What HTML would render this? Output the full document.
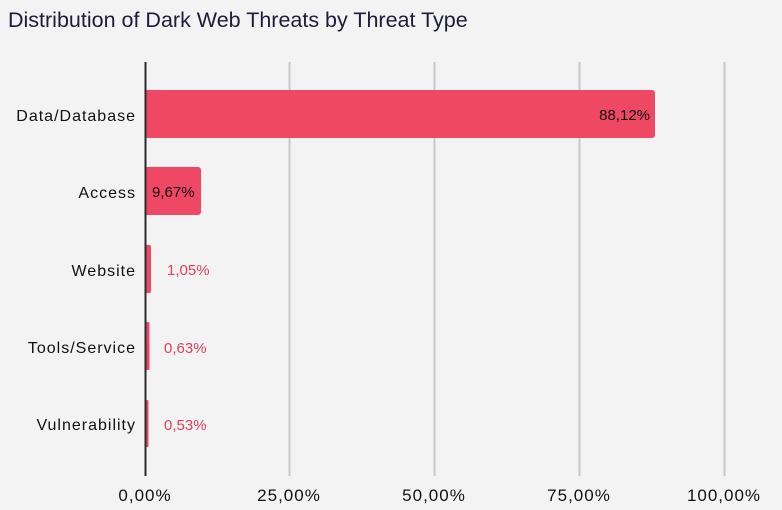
<!DOCTYPE html>
<html><head><style>
body{margin:0;background:#f2f3f2;}
svg{display:block;font-family:"Liberation Sans",sans-serif;}
</style></head><body>
<svg width="782" height="510" viewBox="0 0 782 510">
<rect width="782" height="510" fill="#f2f3f2"/>
<text x="8" y="27" font-size="21.5" fill="#1e1c3a">Distribution of Dark Web Threats by Threat Type</text>
<g stroke="#c8c8c8" stroke-width="2">
<line x1="289.5" y1="62" x2="289.5" y2="476"/>
<line x1="434.5" y1="62" x2="434.5" y2="476"/>
<line x1="579.5" y1="62" x2="579.5" y2="476"/>
<line x1="724.5" y1="62" x2="724.5" y2="476"/>
</g>
<g fill="#ef4865">
<path d="M145 90 H652 a3 3 0 0 1 3 3 V135 a3 3 0 0 1 -3 3 H145Z"/>
<path d="M145 167 H198 a3 3 0 0 1 3 3 V212 a3 3 0 0 1 -3 3 H145Z"/>
<path d="M145 245 H149 a2 2 0 0 1 2 2 V291 a2 2 0 0 1 -2 2 H145Z"/>
<path d="M145 322 H148 a1.5 1.5 0 0 1 1.5 1.5 V368.5 a1.5 1.5 0 0 1 -1.5 1.5 H145Z"/>
<path d="M145 400 H147.5 a1 1 0 0 1 1 1 V446 a1 1 0 0 1 -1 1 H145Z"/>
</g>
<line x1="145.5" y1="62" x2="145.5" y2="476" stroke="#2a2a2a" stroke-width="2"/>
<g font-size="16" fill="#111" text-anchor="end" letter-spacing="1">
<text x="136" y="121">Data/Database</text>
<text x="136" y="198">Access</text>
<text x="136" y="276">Website</text>
<text x="136" y="353">Tools/Service</text>
<text x="136" y="430">Vulnerability</text>
</g>
<g font-size="15">
<text x="650" y="120" text-anchor="end" fill="#111">88,12%</text>
<text x="152" y="197" fill="#111">9,67%</text>
<text x="167" y="275" fill="#e0405d">1,05%</text>
<text x="164" y="353" fill="#e0405d">0,63%</text>
<text x="164" y="430" fill="#e0405d">0,53%</text>
</g>
<g font-size="17" fill="#111" text-anchor="middle" letter-spacing="1">
<text x="145" y="501">0,00%</text>
<text x="289" y="501">25,00%</text>
<text x="434" y="501">50,00%</text>
<text x="579" y="501">75,00%</text>
<text x="724" y="501">100,00%</text>
</g>
</svg>
</body></html>
